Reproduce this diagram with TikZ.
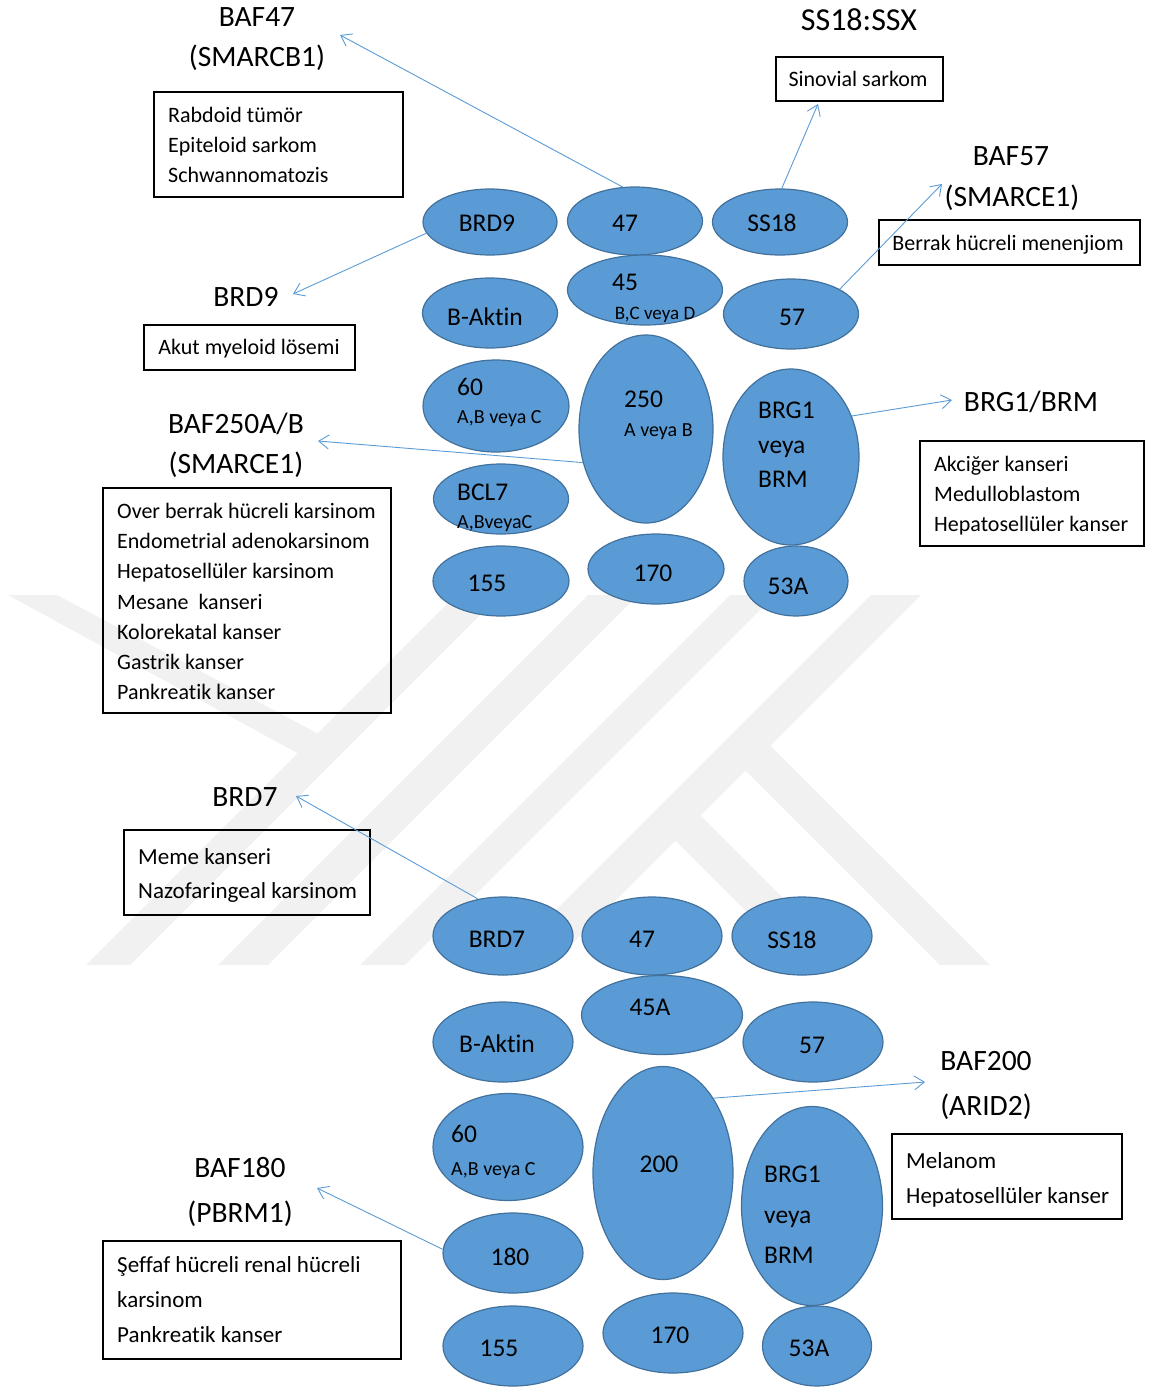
\documentclass[tikz,border=0pt]{standalone}
\usepackage{fontspec}
\setmainfont{Carlito}[Ligatures={NoCommon}]
\usetikzlibrary{arrows.meta,shapes.geometric}
\definecolor{efill}{HTML}{5B9BD5}
\definecolor{eline}{HTML}{41719C}
\definecolor{aline}{HTML}{5B9BD5}
\definecolor{wm}{HTML}{F1F1F1}
\begin{document}
\begin{tikzpicture}[x=1pt,y=-1pt,
  ell/.style={ellipse,fill=efill,draw=eline,line width=1.2pt,inner sep=0pt},
  txt/.style={inner sep=0pt,text height=16.1pt,text depth=0pt,font=\fontsize{25.5}{30}\selectfont},
  sub/.style={inner sep=0pt,text height=12.6pt,text depth=0pt,font=\fontsize{20}{24}\selectfont},
  ttl/.style={inner sep=0pt,text height=18.6pt,text depth=0pt,font=\fontsize{29.5}{35}\selectfont},
  bigttl/.style={inner sep=0pt,text height=20.2pt,text depth=0pt,font=\fontsize{32}{38}\selectfont},
  box/.style={draw=black,line width=1.2pt,inner sep=0pt,rectangle},
  bt/.style={inner sep=0pt,text height=13.9pt,text depth=0pt,font=\fontsize{22}{26}\selectfont},
  bbt/.style={inner sep=0pt,text height=14.5pt,text depth=0pt,font=\fontsize{23}{27}\selectfont},
  arr/.style={draw=aline,line width=0.9pt,-{Straight Barb[length=10pt,width=14pt]}},
  wmk/.style={fill=wm,draw=none},
]
\useasboundingbox (0,0) rectangle (1150,1387);

% watermark
\fill[wmk] (456,595) -- (500,595) -- (130,965) -- (86,965) -- cycle;
\fill[wmk] (8,595) -- (57,595) -- (330,740) -- (310,760) -- cycle;
\fill[wmk] (588,595) -- (638,595) -- (268,965) -- (218,965) -- cycle;
\fill[wmk] (730,595) -- (775,595) -- (405,965) -- (360,965) -- cycle;
\fill[wmk] (871,595) -- (921,595) -- (551,965) -- (501,965) -- cycle;
\fill[wmk] (770,745.5) -- (990,965) -- (940,965) -- (745.5,770.5) -- cycle;
\fill[wmk] (700.5,815.5) -- (850,965) -- (800,965) -- (675.5,840.5) -- cycle;

% ---------- top complex ----------
\node[ell,minimum width=134pt,minimum height=66pt] (eBRD9) at (490,222) {};
\node[ell,minimum width=135pt,minimum height=68pt] (e47) at (635,221) {};
\node[ell,minimum width=135pt,minimum height=66pt] (eSS18) at (780,222) {};
\node[ell,minimum width=155pt,minimum height=70pt] (e45) at (645,290) {};
\node[ell,minimum width=135pt,minimum height=70pt] (eBA) at (490,313) {};
\node[ell,minimum width=135pt,minimum height=70pt] (e57) at (791,314) {};
\node[ell,minimum width=146pt,minimum height=92pt] (e60) at (496,406) {};
\node[ell,minimum width=134pt,minimum height=188pt] (e250) at (646,429) {};
\node[ell,minimum width=136pt,minimum height=176pt] (eBRG) at (791,457) {};
\node[ell,minimum width=135pt,minimum height=70pt] (eBCL) at (501,499) {};
\node[ell,minimum width=136pt,minimum height=70pt] (e155) at (501,581) {};
\node[ell,minimum width=136pt,minimum height=70pt] (e170) at (656,569) {};
\node[ell,minimum width=104pt,minimum height=70pt] (e53) at (796,581) {};

\node[txt] (lBRD9) at (487,223) {BRD9};
\node[txt] (l47) at (625,223) {47};
\node[txt] (lSS18) at (772,223) {SS18};
\node[txt] (l45) at (625,282) {45};
\node[sub,font=\fontsize{19}{23}\selectfont] (l45s) at (655,313) {B,C veya D};
\node[txt] (lBA) at (485,317) {B-Aktin};
\node[txt] (l57) at (792,317) {57};
\node[txt,anchor=west] (l60) at (457,387) {60};
\node[sub,anchor=west] (l60s) at (457,417) {A,B veya C};
\node[txt,anchor=west] (l250) at (624,399) {250};
\node[sub,anchor=west] (l250s) at (624,430) {A veya B};
\node[txt,anchor=west] (lBRGa) at (758,410) {BRG1};
\node[txt,anchor=west] (lBRGb) at (758,445) {veya};
\node[txt,anchor=west] (lBRGc) at (758,479) {BRM};
\node[txt,anchor=west] (lBCL) at (457,492) {BCL7};
\node[sub,anchor=west] (lBCLs) at (457,522) {A,BveyaC};
\node[txt] (l155) at (487,583) {155};
\node[txt] (l170) at (653,573) {170};
\node[txt] (l53) at (788,586) {53A};

% titles and boxes (top)
\node[ttl] (tBAF47) at (257,17) {BAF47};
\node[ttl] (tSMB1) at (257,57) {(SMARCB1)};
\node[box,minimum width=249pt,minimum height=105pt] (bx1) at (278.5,144.5) {};
\node[bt,anchor=west] (bx1a) at (168,116) {Rabdoid tümör};
\node[bt,anchor=west] (bx1b) at (168,146) {Epiteloid sarkom};
\node[bt,anchor=west] (bx1c) at (168,176) {Schwannomatozis};

\node[bigttl] (tSSX) at (859,20) {SS18:SSX};
\node[box,minimum width=167pt,minimum height=44pt] (bxSin) at (859.5,79) {};
\node[bt] (lSin) at (858,80) {Sinovial sarkom};

\node[ttl] (tBAF57) at (1011,156) {BAF57};
\node[ttl] (tSMCE) at (1012,197) {(SMARCE1)};
\node[box,minimum width=261pt,minimum height=45pt] (bxBer) at (1009.5,242.5) {};
\node[bt] (lBer) at (1008,244) {Berrak hücreli menenjiom};

\node[ttl] (tBRD9) at (246,297) {BRD9};
\node[box,minimum width=211pt,minimum height=45pt] (bxAkut) at (249.5,347.5) {};
\node[bt] (lAkut) at (249,348) {Akut myeloid lösemi};

\node[ttl] (tBAF250) at (236,424) {BAF250A/B};
\node[ttl] (tSME2) at (236,464) {(SMARCE1)};
\node[box,minimum width=288pt,minimum height=225pt] (bxBig) at (247,600.5) {};
\node[bt,anchor=west] (bg1) at (117,512) {Over berrak hücreli karsinom};
\node[bt,anchor=west] (bg2) at (117,542) {Endometrial adenokarsinom};
\node[bt,anchor=west] (bg3) at (117,572) {Hepatosellüler karsinom};
\node[bt,anchor=west] (bg4) at (117,603) {Mesane\ \ kanseri};
\node[bt,anchor=west] (bg5) at (117,633) {Kolorekatal kanser};
\node[bt,anchor=west] (bg6) at (117,663) {Gastrik kanser};
\node[bt,anchor=west] (bg7) at (117,693) {Pankreatik kanser};

\node[ttl] (tBRGBRM) at (1031,402) {BRG1/BRM};
\node[box,minimum width=224pt,minimum height=105pt] (bxBRG) at (1032,493.5) {};
\node[bt,anchor=west] (br1) at (934,465) {Akciğer kanseri};
\node[bt,anchor=west] (br2) at (934,495) {Medulloblastom};
\node[bt,anchor=west] (br3) at (934,525) {Hepatosellüler kanser};

% ---------- bottom complex ----------
\node[ell,minimum width=140pt,minimum height=78pt] (fBRD7) at (503,936) {};
\node[ell,minimum width=140pt,minimum height=78pt] (f47) at (652,936) {};
\node[ell,minimum width=140pt,minimum height=78pt] (fSS18) at (802,936) {};
\node[ell,minimum width=161pt,minimum height=79pt] (f45A) at (662,1015) {};
\node[ell,minimum width=140pt,minimum height=80pt] (fBA) at (503,1042) {};
\node[ell,minimum width=140pt,minimum height=80pt] (f57) at (813,1042) {};
\node[ell,minimum width=150pt,minimum height=107pt] (f60) at (508,1147) {};
\node[ell,minimum width=140pt,minimum height=213pt] (f200) at (663,1173) {};
\node[ell,minimum width=141pt,minimum height=199pt] (fBRG) at (812,1206) {};
\node[ell,minimum width=140pt,minimum height=80pt] (f180) at (513,1253) {};
\node[ell,minimum width=140pt,minimum height=80pt] (f155) at (513,1346) {};
\node[ell,minimum width=140pt,minimum height=80pt] (f170) at (673,1333) {};
\node[ell,minimum width=109pt,minimum height=80pt] (f53) at (817,1346) {};

\node[txt] (mBRD7) at (497,939) {BRD7};
\node[txt] (m47) at (642,939) {47};
\node[txt] (mSS18) at (792,940) {SS18};
\node[txt] (m45A) at (650,1007) {45A};
\node[txt] (mBA) at (497,1044) {B-Aktin};
\node[txt] (m57) at (812,1045) {57};
\node[txt,anchor=west] (m60) at (451,1134) {60};
\node[sub,anchor=west] (m60s) at (451,1169) {A,B veya C};
\node[txt] (m200) at (659,1164) {200};
\node[txt,anchor=west] (mBRGa) at (764,1174) {BRG1};
\node[txt,anchor=west] (mBRGb) at (764,1215) {veya};
\node[txt,anchor=west] (mBRGc) at (764,1255) {BRM};
\node[txt] (m180) at (510,1257) {180};
\node[txt] (m155) at (499,1348) {155};
\node[txt] (m170) at (670,1335) {170};
\node[txt] (m53) at (809,1348) {53A};

% titles and boxes (bottom)
\node[ttl] (tBRD7) at (245,797) {BRD7};
\node[box,minimum width=246pt,minimum height=85pt] (bxBRD7) at (247,872.5) {};
\node[bbt,anchor=west] (bd1) at (138,857) {Meme kanseri};
\node[bbt,anchor=west] (bd2) at (138,891) {Nazofaringeal karsinom};

\node[ttl] (tBAF200) at (986,1061) {BAF200};
\node[ttl] (tARID) at (986,1106) {(ARID2)};
\node[box,minimum width=230pt,minimum height=85pt] (bxB200) at (1007,1176.5) {};
\node[bbt,anchor=west] (bm1) at (906,1161) {Melanom};
\node[bbt,anchor=west] (bm2) at (906,1196) {Hepatosellüler kanser};

\node[ttl] (tBAF180) at (240,1168) {BAF180};
\node[ttl] (tPBRM) at (240,1213) {(PBRM1)};
\node[box,minimum width=298pt,minimum height=118pt] (bxB180) at (252,1300) {};
\node[bbt,anchor=west] (bp1) at (117,1265) {Şeffaf hücreli renal hücreli};
\node[bbt,anchor=west] (bp2) at (117,1300) {karsinom};
\node[bbt,anchor=west] (bp3) at (117,1335) {Pankreatik kanser};

% arrow tips
\coordinate (p47) at (340,35);
\coordinate (pSS) at (818,104);
\coordinate (p57) at (942,184);
\coordinate (pBRD9) at (293,294);
\coordinate (p250) at (318,441);
\coordinate (pBRG) at (952,400);
\coordinate (pBRD7) at (296,796);
\coordinate (p200) at (925,1082);
\coordinate (p180) at (317,1188);

\draw[arr] (e47.110) -- (p47);
\draw[arr] (eSS18.87) -- (pSS);
\draw[arr] (e57.27) -- (p57);
\draw[arr] (eBRD9.190) -- (pBRD9);
\draw[arr] (e250.208) -- (p250);
\draw[arr] (eBRG.34) -- (pBRG);
\draw[arr] (fBRD7.124) -- (pBRD7);
\draw[arr] (f200.56) -- (p200);
\draw[arr] (f180.177) -- (p180);
\end{tikzpicture}
\end{document}
